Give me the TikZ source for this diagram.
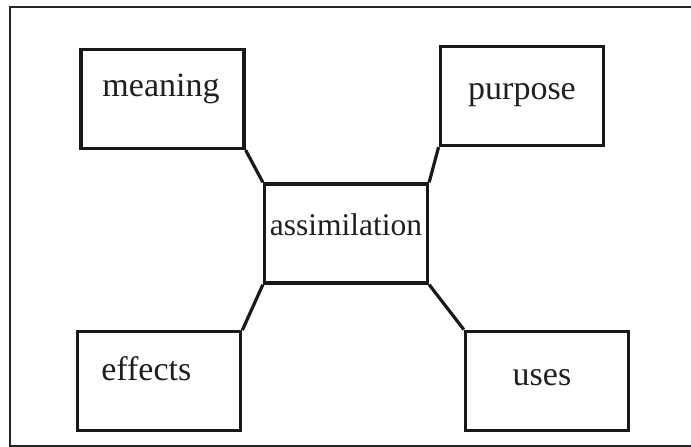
\documentclass[tikz,border=0pt]{standalone}
\usepackage{fontspec}
\setmainfont{Liberation Serif}
\begin{document}
\begin{tikzpicture}[x=1bp,y=-1bp,
  box/.style={draw=black!90, line width=3.3bp, minimum width=163bp, minimum height=99bp, inner sep=0pt},
  word/.style={anchor=base, inner sep=0pt, font=\fontsize{34bp}{40bp}\selectfont, text=black!88},
  link/.style={draw=black!90, line width=3.2bp}]
  \useasboundingbox (0,0) rectangle (691,447);
  \clip (0,0) rectangle (691,447);
  % outer frame (its right side runs off the page)
  \draw[line width=2bp, black!85] (700,7.5) -- (10,7.5) -- (10,445.8) -- (700,445.8);

  % boxes
  \node[box] (meaning) at (162.5,99) {};
  \node[box] (purpose) at (521.7,96) {};
  \node[box] (assim) at (346,233.5) {};
  \node[box] (effects) at (159.2,381.3) {};
  \node[box] (uses) at (547,380.8) {};

  % labels
  \node[word] (tmeaning) at (161,97) {meaning};
  \node[word] (tpurpose) at (522,100) {purpose};
  \node[word, font=\fontsize{31.5bp}{38bp}\selectfont] (tassim) at (346,236) {assimilation};
  \node[word] (teffects) at (146.3,380) {effects};
  \node[word] (tuses) at (542,385) {uses};

  % connectors, corner to corner
  \draw[link] (meaning.south east) -- (assim.north west);
  \draw[link] (purpose.south west) -- (assim.north east);
  \draw[link] (effects.north east) -- (assim.south west);
  \draw[link] (uses.north west) -- (assim.south east);
\end{tikzpicture}
\end{document}
